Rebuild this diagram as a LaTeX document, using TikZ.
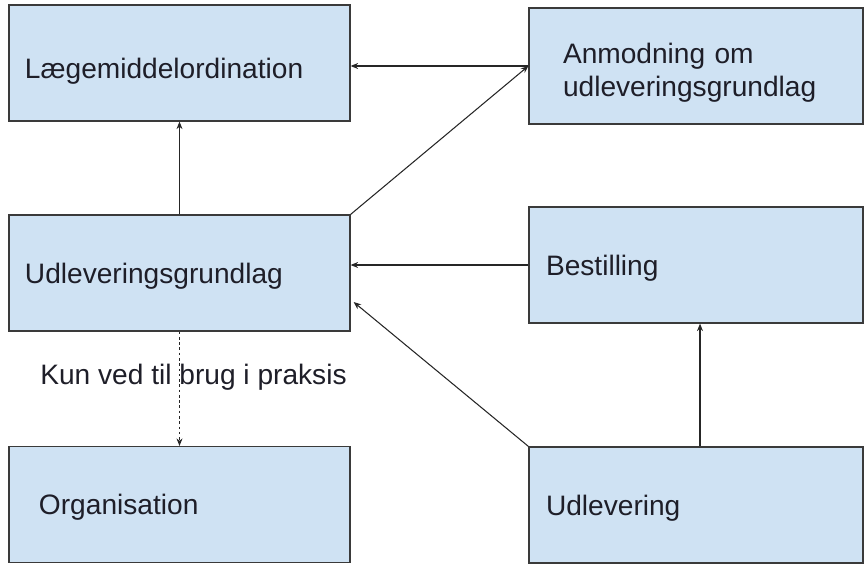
\documentclass[tikz,border=0pt]{standalone}
\usepackage{fontspec}
\setmainfont{Liberation Sans}
\usepackage{xcolor}
\usepackage{tikz}
\usetikzlibrary{arrows.meta, positioning}
\definecolor{boxblue}{HTML}{CFE2F3}
\definecolor{boxline}{HTML}{3A3A3A}
\definecolor{textdark}{HTML}{1E1E28}

\begin{document}
\begin{tikzpicture}[font=\fontsize{16pt}{18.5pt}\selectfont,
  box/.style={draw=boxline, line width=0.7pt, fill=boxblue, text=textdark, minimum height=2.32cm, align=left, inner ysep=0pt},
  arr/.style={draw=black!85, line width=0.6pt, -{Stealth[length=1.5mm, width=1.2mm]}}]
\useasboundingbox (0.00, 0.00) rectangle (17.30, -11.26);
\node[box, text width=6.18cm, inner xsep=0.32cm, text height=0.62cm, text depth=0pt] (laege) at (3.59, -1.26) {Lægemiddelordination};
\node[box, text width=5.32cm, inner xsep=0.68cm, text height=0.40cm, text depth=0.48cm] (anmod) at (13.92, -1.32) {Anmodning om\\udleveringsgrundlag};
\node[box, text width=6.18cm, inner xsep=0.32cm, text depth=0pt] (udlgrl) at (3.59, -5.46) {Udleveringsgrundlag};
\node[box, text width=6.00cm, inner xsep=0.34cm, text depth=0pt] (bestil) at (13.92, -5.30) {Bestilling};
\node[box, text width=5.62cm, inner xsep=0.60cm, text depth=0pt] (org) at (3.59, -10.09) {Organisation};
\node[box, text width=6.00cm, inner xsep=0.34cm, text depth=0pt] (udlev) at (13.92, -10.10) {Udlevering};
\node[anchor=west, text=textdark, inner sep=0pt] (note) at (0.80, -7.54) {Kun ved til brug i praksis};
\draw[arr] (anmod.west) -- (anmod.west -| laege.east);
\draw[arr] (udlgrl.north) -- (laege.south);
\draw[arr] (udlgrl.north east) -- (anmod.west);
\draw[arr] (bestil.west) -- (bestil.west -| udlgrl.east);
\draw[arr] (udlev.north west) -- ([xshift=0.06cm, yshift=-0.58cm]udlgrl.east);
\draw[arr] ([xshift=0.08cm]udlev.north) -- ([xshift=0.08cm]bestil.south);
\draw[arr, dash pattern=on 1.5pt off 1.5pt] (udlgrl.south) -- (org.north);
\end{tikzpicture}
\end{document}
